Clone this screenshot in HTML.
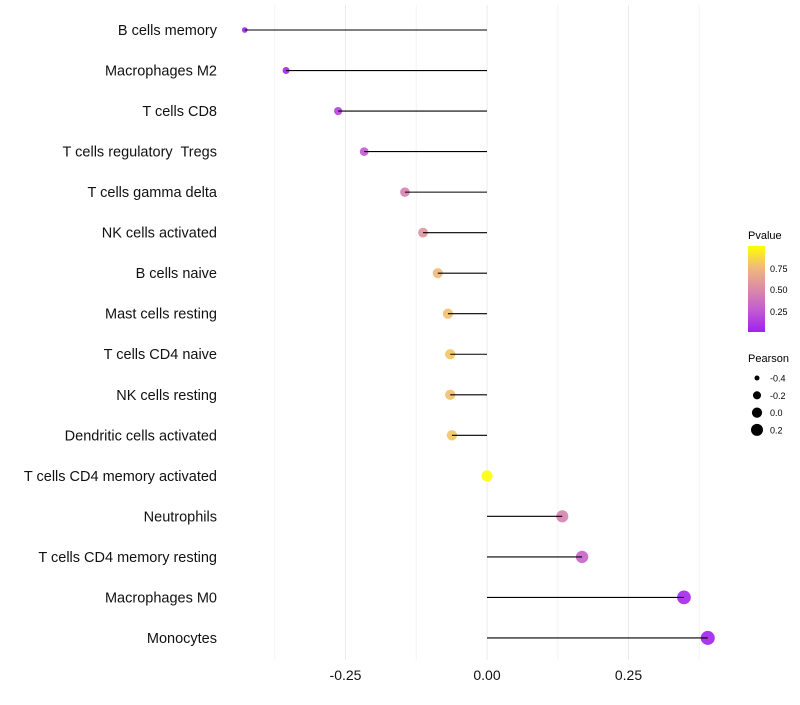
<!DOCTYPE html>
<html><head><meta charset="utf-8"><style>
body{margin:0;background:#fff;}
svg text{font-family:"Liberation Sans",Arial,sans-serif;white-space:pre;}
</style></head><body>
<svg id="chart" width="800" height="700" xmlns="http://www.w3.org/2000/svg">
<g id="grid"></g>
<g id="pts"></g>
<g id="stems"></g>
<g id="ylab"></g>
<g id="xlab"></g>
<g id="legend">
<defs><linearGradient id="pg" x1="0" y1="1" x2="0" y2="0">
<stop offset="0" stop-color="#a020f0"/><stop offset="0.25" stop-color="#c25ad2"/><stop offset="0.5" stop-color="#db8ba6"/><stop offset="0.75" stop-color="#efb97c"/><stop offset="1" stop-color="#ffff00"/></linearGradient></defs>
<text x="748" y="239" font-size="11">Pvalue</text>
<rect x="748" y="246" width="17" height="86" fill="url(#pg)"/>
<text x="770" y="272" font-size="9">0.75</text>
<text x="770" y="293" font-size="9">0.50</text>
<text x="770" y="315" font-size="9">0.25</text>
<text x="748" y="362" font-size="11">Pearson</text>
</g>
</svg>
<script>
const categories=["B cells memory","Macrophages M2","T cells CD8","T cells regulatory  Tregs","T cells gamma delta","NK cells activated","B cells naive","Mast cells resting","T cells CD4 naive","NK cells resting","Dendritic cells activated","T cells CD4 memory activated","Neutrophils","T cells CD4 memory resting","Macrophages M0","Monocytes"];
const pearson=[-0.428,-0.355,-0.263,-0.217,-0.145,-0.113,-0.087,-0.069,-0.065,-0.065,-0.062,0.0,0.133,0.168,0.348,0.390];
const pvalues=[0.01,0.02,0.15,0.25,0.45,0.55,0.75,0.78,0.8,0.78,0.8,1.0,0.45,0.3,0.03,0.01];
const xTicks=[-0.25,0,0.25];
const xTickLabels=["-0.25","0.00","0.25"];
const sizeLegendValues=[-0.4,-0.2,0.0,0.2];
const sizeLegendLabels=["-0.4","-0.2","0.0","0.2"];
const NS="http://www.w3.org/2000/svg";
const x=v=>487+v*566;
const y=i=>30+i*40.53;
const r=v=>{const a=30+50*v;return a<10?Math.sqrt(Math.max(2.25,2.25+(a-6)*2.2)):Math.sqrt(a);};
const rl=v=>Math.sqrt(Math.max(1,26.1+49.6*v));
const stops=[[0,[160,32,240]],[0.25,[194,90,210]],[0.5,[219,139,166]],[0.75,[239,185,124]],[1,[255,255,0]]];
function col(p){for(let k=1;k<stops.length;k++){if(p<=stops[k][0]){const a=stops[k-1],b=stops[k],t=(p-a[0])/(b[0]-a[0]);return "rgb("+a[1].map((c,j)=>Math.round(c+(b[1][j]-c)*t)).join(",")+")";}}return "rgb(255,255,0)";}
function mk(t,at,parent){const e=document.createElementNS(NS,t);for(const k in at)e.setAttribute(k,at[k]);document.getElementById(parent).appendChild(e);return e;}
[-0.375,-0.125,0.125,0.375].forEach(v=>{const e=mk("line",{x1:x(v),x2:x(v),y1:5,y2:660,stroke:"#f4f4f4","stroke-width":1},"grid");

});
xTicks.forEach((v,i)=>{const e=mk("line",{x1:x(v),x2:x(v),y1:5,y2:660,stroke:"#ebebeb","stroke-width":1},"grid");


const t=mk("text",{x:x(v),y:680,"font-size":14,"text-anchor":"middle",fill:"#111"},"xlab");t.textContent=xTickLabels[i];

});
categories.forEach((c,i)=>{
const p=mk("circle",{cx:x(pearson[i]),cy:y(i),r:r(pearson[i]),fill:col(pvalues[i]),"fill-opacity":0.9},"pts");


const l=mk("line",{x1:x(0),x2:x(pearson[i]),y1:y(i),y2:y(i),stroke:"#000","stroke-width":1.1},"stems");


const t=mk("text",{x:217,y:y(i)+5,"font-size":14.5,"text-anchor":"end",fill:"#111"},"ylab");t.textContent=c;


});
sizeLegendValues.forEach((v,i)=>{const yy=378+i*17.3;
const c=mk("circle",{cx:757,cy:yy,r:rl(v),fill:"#000"},"legend");


const t=mk("text",{x:770,y:yy+3.5,"font-size":9},"legend");t.textContent=sizeLegendLabels[i];

});
</script>
</body></html>
